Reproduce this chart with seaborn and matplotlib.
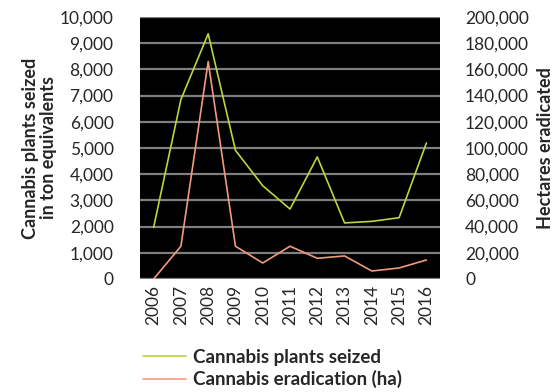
import numpy as np
import pandas as pd
import seaborn as sns
import matplotlib.pyplot as plt
from matplotlib.ticker import FuncFormatter, MultipleLocator

# Data
years = ["2006", "2007", "2008", "2009", "2010", "2011", "2012", "2013", "2014", "2015", "2016"]
plants_seized = [1970, 6850, 9360, 4910, 3560, 2670, 4660, 2140, 2200, 2340, 5190]
eradication_ha = [0, 25000, 166000, 25000, 12200, 25000, 15800, 17600, 6100, 8400, 14500]

df = pd.DataFrame({"year": years, "seized": plants_seized, "erad": eradication_ha})
df["pos"] = range(len(years))

sns.set_style("white")
plt.rcParams["font.family"] = ["Lato", "DejaVu Sans"]

green = "#b9d63c"
salmon = "#f29a7e"

fig = plt.figure(figsize=(5.56, 3.92), dpi=100)
ax = fig.add_axes([0.2518, 0.2883, 0.5396, 0.6683])
ax2 = ax.twinx()

sns.lineplot(data=df, x="pos", y="seized", color=green, lw=1.2, ax=ax,
             label="Cannabis plants seized", legend=False)
sns.lineplot(data=df, x="pos", y="erad", color=salmon, lw=1.2, ax=ax2,
             label="Cannabis eradication (ha)", legend=False)

ax.set_facecolor("black")
ax.set_xlim(-0.5, len(years) - 0.5)
ax.set_ylim(0, 10000)
ax2.set_ylim(0, 200000)
ax.yaxis.set_major_locator(MultipleLocator(1000))
ax2.yaxis.set_major_locator(MultipleLocator(20000))
fmt = FuncFormatter(lambda v, p: f"{int(v):,}")
ax.yaxis.set_major_formatter(fmt)
ax2.yaxis.set_major_formatter(fmt)

ax.grid(axis="y", color="#7f7f7f", lw=1.6)
ax.set_axisbelow(True)
ax2.grid(False)
ax.set_xticks(df["pos"])
ax.set_xticklabels(years, rotation=90, fontsize=12.5)
ax.tick_params(axis="y", labelsize=12.5, length=0, pad=19)
ax2.tick_params(axis="y", labelsize=12.5, length=0, pad=18)
ax.tick_params(axis="x", length=0, pad=4)

for a in (ax, ax2):
    for s in a.spines.values():
        s.set_visible(False)

ax.set_xlabel("")
ax.set_ylabel("Cannabis plants seized\nin ton equivalents", fontsize=13,
              fontweight="bold", labelpad=2, multialignment="center", linespacing=1.1)
ax2.set_ylabel("Hectares eradicated", fontsize=13, fontweight="bold", labelpad=6)

h1, l1 = ax.get_legend_handles_labels()
h2, l2 = ax2.get_legend_handles_labels()
leg = fig.legend(h1 + h2, l1 + l2, loc="upper left", bbox_to_anchor=(0.243, 0.13),
                 frameon=False, handlelength=2.3, handletextpad=0.4, labelspacing=0.25,
                 prop={"size": 13.5, "weight": "bold"}, borderaxespad=0)

fig.savefig("out.png", dpi=100)
